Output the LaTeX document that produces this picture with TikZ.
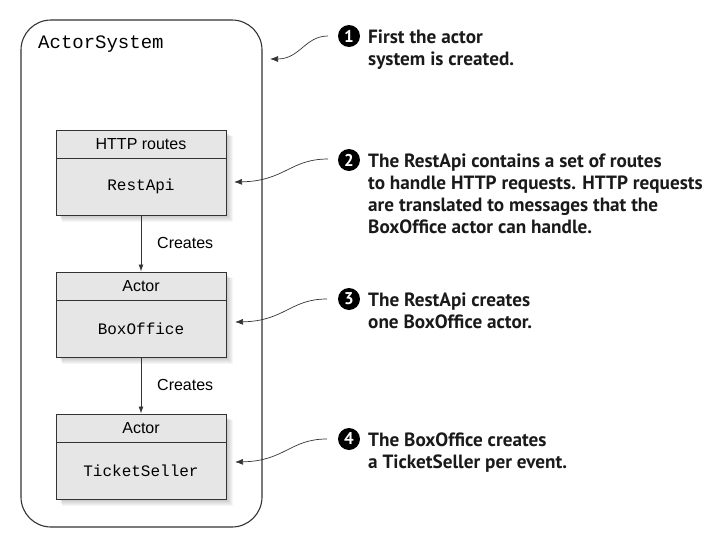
\documentclass[tikz,border=0pt]{standalone}
\usepackage{fontspec}
\setmainfont{Liberation Sans}
\newfontfamily\notefont{PT Sans}
\newfontfamily\codefont{Liberation Mono}
\usetikzlibrary{arrows.meta}
\definecolor{boxfill}{HTML}{E6E6E6}
\definecolor{linecol}{HTML}{333333}
\definecolor{inkcol}{HTML}{1A1A1A}
\tikzset{
  outerbox/.style={draw=linecol, line width=1.1pt, rounded corners=30pt},
  headbox/.style={draw=linecol, line width=1pt, fill=boxfill, minimum width=170pt, minimum height=28pt, inner sep=0pt, font=\fontsize{16}{19}\selectfont},
  bodybox/.style={draw=linecol, line width=1pt, fill=boxfill, minimum width=170pt, minimum height=57pt, inner sep=0pt, font=\codefont\fontsize{16}{19}\selectfont},
  createarrow/.style={draw=linecol, line width=0.9pt, -{Latex[length=7pt,width=5pt]}},
  notearrow/.style={draw=linecol, line width=0.7pt, -{Latex[length=8pt,width=6pt]}},
  numdot/.style={circle, fill=black, text=white, inner sep=0pt, minimum size=22pt, font=\notefont\bfseries\fontsize{17}{17}\selectfont},
  notetext/.style={anchor=base west, align=left, inner sep=0pt, text=inkcol, font=\notefont\bfseries\fontsize{19.2}{22}\selectfont},
  createlabel/.style={anchor=west, inner sep=0pt, font=\fontsize{16}{19}\selectfont}
}
\begin{document}
\begin{tikzpicture}[x=1pt,y=-1pt]
\useasboundingbox (0,0) rectangle (724,544);
% outer actor system
\draw[outerbox] (21,20) rectangle (262,527);
\node[anchor=base west, inner sep=0pt, font=\codefont\fontsize{19}{22}\selectfont] (sys) at (38,48) {ActorSystem};
% shadows
\foreach \y in {130,272,414}{
  \foreach \i in {1,...,6}{
    \fill[black, opacity=0.035] (56+3-\i*0.5+\i,\y+3-\i*0.5+\i) rectangle (226+1+\i,\y+85+1+\i);
  }
}
% box A
\node[headbox] (hA) at (141,144) {HTTP routes};
\node[bodybox] (bA) at (141,186.5) {RestApi};
% box B
\node[headbox] (hB) at (141,286) {Actor};
\node[bodybox] (bB) at (141,328.5) {BoxOffice};
% box C
\node[headbox] (hC) at (141,428) {Actor};
\node[bodybox] (bC) at (141,470.5) {TicketSeller};
% creates arrows
\draw[createarrow] (bA.south) -- (hB.north);
\draw[createarrow] (bB.south) -- (hC.north);
\node[createlabel] (c1) at (157,243) {Creates};
\node[createlabel] (c2) at (157,385) {Creates};
% annotations
\node[numdot] (n1) at (349,36) {1};
\node[numdot] (n2) at (349,160) {2};
\node[numdot] (n3) at (349,299) {3};
\node[numdot] (n4) at (349,439) {4};
\node[notetext] (t1) at (368,65) {First the actor\\system is created.};
\node[notetext] (t2) at (368,233) {The RestApi contains a set of routes\\to handle HTTP requests. HTTP requests\\are translated to messages that the\\BoxOffice actor can handle.};
\node[notetext] (t3) at (368,328) {The RestApi creates\\one BoxOffice actor.};
\node[notetext] (t4) at (368,468) {The BoxOffice creates\\a TicketSeller per event.};
% annotation arrows
\coordinate (s1) at (328,36);
\coordinate (e1) at (270,59);
\coordinate (s2) at (328,159);
\coordinate (e2) at (234,182);
\coordinate (s3) at (327,299);
\coordinate (e3) at (235,322);
\coordinate (s4) at (327,439);
\coordinate (e4) at (235,462);
\draw[notearrow] (s1) .. controls (305,36) and (300,59) .. (e1);
\draw[notearrow] (s2) .. controls (290,159) and (285,181) .. (e2);
\draw[notearrow] (s3) .. controls (290,299) and (285,321) .. (e3);
\draw[notearrow] (s4) .. controls (290,439) and (285,461) .. (e4);
\end{tikzpicture}
\end{document}
